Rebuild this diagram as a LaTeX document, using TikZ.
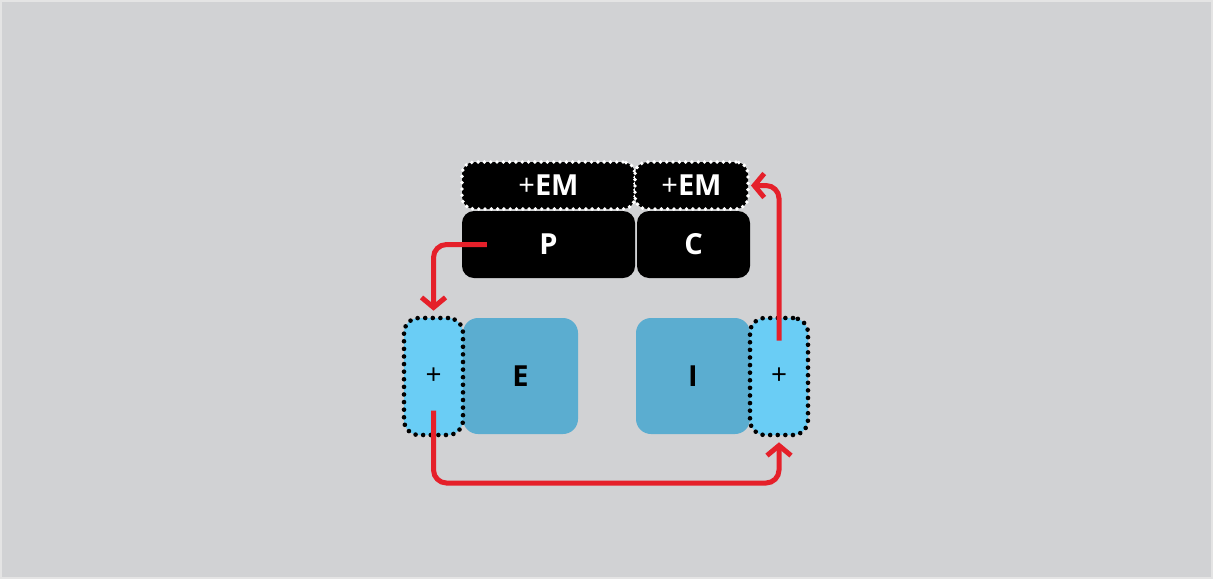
\documentclass[tikz,border=0pt]{standalone}
\usepackage{fontspec}
\setmainfont{Open Sans}
\usetikzlibrary{arrows.meta}
\definecolor{bggray}{HTML}{D1D2D4}
\definecolor{bgedge}{HTML}{E4E4E4}
\definecolor{lightblue}{HTML}{6ACDF5}
\definecolor{darkblue}{HTML}{5BADD0}
\definecolor{arrowred}{HTML}{E5202A}
\tikzset{
  blackbox/.style={fill=black, rounded corners=12pt, inner sep=0pt, text=white,
    font=\fontsize{29}{34}\selectfont\bfseries},
  emdots/.style={blackbox, draw=white, line width=3.9pt, line cap=round,
    dash pattern=on 0pt off 6.3pt},
  bluebox/.style={fill=darkblue, rounded corners=15pt, inner sep=0pt, text=black,
    font=\fontsize{29}{34}\selectfont\bfseries},
  plusbox/.style={fill=lightblue, draw=black, rounded corners=15pt, inner sep=0pt,
    line width=4.6pt, line cap=round, dash pattern=on 0pt off 7.6pt,
    font=\fontsize{28}{32}\selectfont},
  flow/.style={draw=arrowred, line width=5pt, rounded corners=13pt,
    -{Straight Barb[length=10pt,width=24pt,line width=5pt]}}
}
\begin{document}
\begin{tikzpicture}[x=1pt,y=-1pt]
\useasboundingbox (0,0) rectangle (1213,579);
\fill[bgedge] (0,0) rectangle (1213,579);
\fill[bggray] (2,2) rectangle (1211,577);
% black boxes
\node[blackbox, minimum width=173pt, minimum height=67pt] (P) at (548.5,244.5) {P};
\node[blackbox, minimum width=113pt, minimum height=67pt] (C) at (693.5,244.5) {C};
\node[emdots, minimum width=173pt, minimum height=47pt] (emL) at (548.5,185.5) {{\mdseries+}EM};
\node[emdots, minimum width=113pt, minimum height=47pt] (emR) at (691.5,185.5) {{\mdseries+}EM};
% blue boxes
\node[bluebox, minimum width=115pt, minimum height=116pt] (E) at (520.5,376) {E};
\node[bluebox, minimum width=114pt, minimum height=116pt] (I) at (693,376) {I};
\node[plusbox, minimum width=59pt, minimum height=117pt] (plusL) at (433.5,376.5) {+};
\node[plusbox, minimum width=58pt, minimum height=117pt] (plusR) at (779,376.5) {+};
% arrow endpoints
\coordinate (s1) at ([xshift=25pt]P.west);
\coordinate (s2) at ([yshift=-34pt]plusL.center);
\coordinate (s3) at ([yshift=36pt]plusR.center);
\coordinate (low) at (433.5,483);
% arrows
\draw[flow, shorten >=5pt] (s1) -| (plusL.north);
\draw[flow, shorten >=5pt] (s2) -- (low) -| (plusR.south);
\draw[flow, shorten >=1pt] (s3) |- (emR.east);
\end{tikzpicture}
\end{document}
